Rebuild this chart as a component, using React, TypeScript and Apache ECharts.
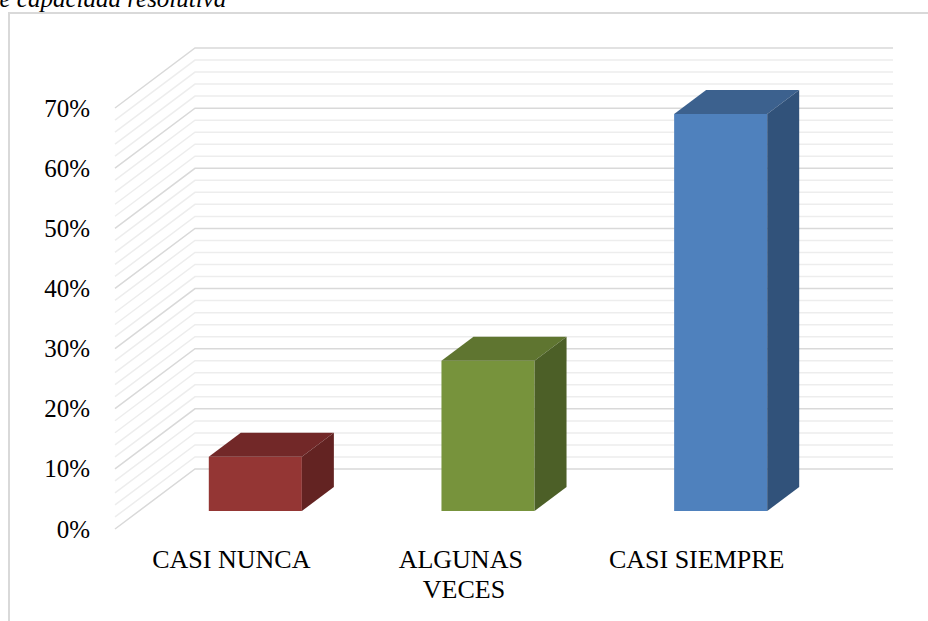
import React, { useEffect, useRef } from "react";
import * as echarts from "echarts";

const categories = ["CASI NUNCA", "ALGUNAS VECES", "CASI SIEMPRE"];
const values = [9, 25, 66];
const barColors = [
  { front: "#943634", top: "#722828", side: "#632322" },
  { front: "#77933C", top: "#5F7530", side: "#4C5F27" },
  { front: "#4F81BD", top: "#3C618E", side: "#31527A" },
];
const yMax = 70;
const yMajor = 10;
const yMinor = 2;
const caption = "de capacidad resolutiva";

const DEPTH_X = 80;
const DEPTH_Y = -60;
const FONT = "Liberation Serif, serif";

export default function App() {
  const ref = useRef<HTMLDivElement>(null);
  useEffect(() => {
    if (!ref.current) return;
    const chart = echarts.init(ref.current, undefined, { renderer: "svg" });
    const ticks: number[][] = [];
    for (let v = 0; v <= yMax; v += yMinor) ticks.push([0, v]);

    chart.setOption({
      animation: false,
      backgroundColor: "#ffffff",
      textStyle: { fontFamily: FONT },
      grid: { left: 115, right: 115, top: 108, bottom: 92, containLabel: false },
      xAxis: {
        type: "category",
        data: categories,
        axisLine: { show: false },
        axisTick: { show: false },
        splitLine: { show: false },
        axisLabel: {
          interval: 0,
          margin: 15,
          color: "#000",
          fontFamily: FONT,
          fontSize: 26,
          lineHeight: 30,
          width: 195,
          overflow: "break",
        },
      },
      yAxis: {
        type: "value",
        min: 0,
        max: yMax,
        interval: yMajor,
        axisLine: { show: false },
        axisTick: { show: false },
        splitLine: { show: false },
        axisLabel: {
          formatter: "{value}%",
          margin: 25,
          color: "#000",
          fontFamily: FONT,
          fontSize: 25,
        },
      },
      graphic: [
        {
          type: "rect",
          shape: { x: 9, y: 13, width: 1000, height: 700 },
          style: { fill: "none", stroke: "#d9d9d9", lineWidth: 2 },
          z: -10,
        },
        {
          type: "text",
          x: -13,
          y: 11,
          style: {
            text: caption,
            fontFamily: FONT,
            fontStyle: "italic",
            fontSize: 25,
            fill: "#000",
            verticalAlign: "bottom",
          },
        },
      ],
      series: [
        {
          type: "custom",
          z: 1,
          silent: true,
          data: ticks,
          renderItem: (params: any, api: any) => {
            const v = api.value(1);
            const p = api.coord([0, v]);
            const cs = params.coordSys;
            const x0 = cs.x;
            const x1 = cs.x + cs.width + DEPTH_X;
            const major = v % yMajor === 0;
            return {
              type: "polyline",
              shape: {
                points: [
                  [x0, p[1]],
                  [x0 + DEPTH_X, p[1] + DEPTH_Y],
                  [x1, p[1] + DEPTH_Y],
                ],
              },
              style: {
                fill: "none",
                stroke: major ? "#d9d9d9" : "#ededed",
                lineWidth: 1.5,
              },
            };
          },
        },
        {
          type: "custom",
          z: 5,
          data: values.map((v, i) => [i, v]),
          renderItem: (params: any, api: any) => {
            const i = api.value(0);
            const v = api.value(1);
            const band = api.size([1, 0])[0];
            const top = api.coord([i, v]);
            const base = api.coord([i, 0]);
            const c = barColors[i];
            const w = band * 0.4;
            const offX = DEPTH_X * 0.3;
            const offY = DEPTH_Y * 0.3;
            const dX = DEPTH_X * 0.4;
            const dY = DEPTH_Y * 0.4;
            const xl = top[0] + offX - w / 2;
            const xr = xl + w;
            const yt = top[1] + offY;
            const yb = base[1] + offY;
            return {
              type: "group",
              children: [
                {
                  type: "polygon",
                  shape: { points: [[xl, yt], [xr, yt], [xr, yb], [xl, yb]] },
                  style: { fill: c.front },
                },
                {
                  type: "polygon",
                  shape: {
                    points: [[xl, yt], [xl + dX, yt + dY], [xr + dX, yt + dY], [xr, yt]],
                  },
                  style: { fill: c.top },
                },
                {
                  type: "polygon",
                  shape: {
                    points: [[xr, yt], [xr + dX, yt + dY], [xr + dX, yb + dY], [xr, yb]],
                  },
                  style: { fill: c.side },
                },
              ],
            };
          },
        },
      ],
    });
    return () => chart.dispose();
  }, []);
  return (
    <div
      ref={ref}
      style={{ position: "fixed", left: 0, top: 0, width: 928, height: 621 }}
    />
  );
}
